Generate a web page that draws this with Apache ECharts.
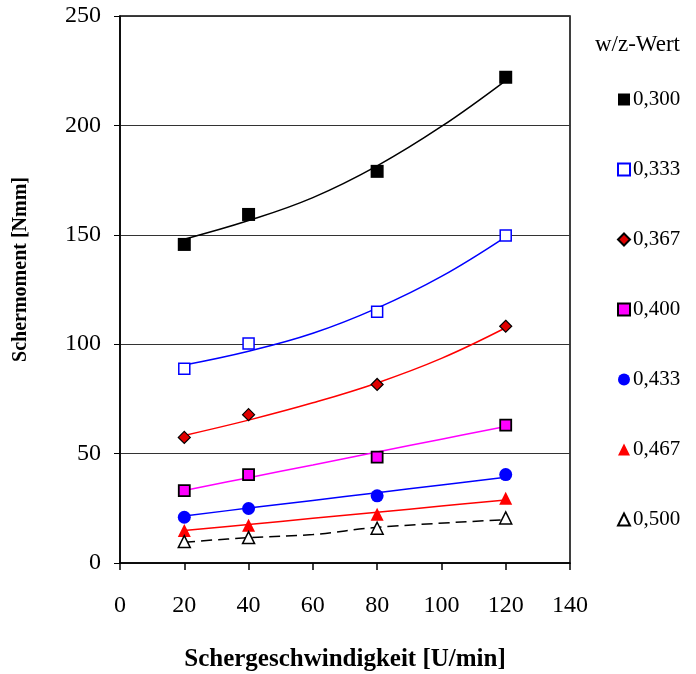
<!DOCTYPE html>
<html><head><meta charset="utf-8">
<script src="https://cdn.jsdelivr.net/npm/echarts@6/dist/echarts.min.js"></script>
<style>html,body{margin:0;padding:0;background:#fff}#c{width:696px;height:674px}</style>
</head><body><div id="c"></div>
<script>
// Measured points
var speeds = [20, 40, 80, 120];
var names = ['0,300','0,333','0,367','0,400','0,433','0,467','0,500'];
var m300 = [145.6, 159.3, 179.0, 222.0];
var m333 = [88.8, 100.3, 114.8, 149.7];
var m367 = [57.4, 67.8, 81.6, 108.2];
var m400 = [33.1, 40.4, 48.4, 63.0];
var m433 = [20.9, 24.9, 30.7, 40.4];
var m467 = [14.8, 17.3, 22.3, 29.6];
var m500 = [9.8, 11.6, 15.9, 20.6];
// Trend lines
var trendX = [20, 40, 60, 80, 100, 120];
var t300 = [148.0, 156.5, 167.0, 181.5, 199.5, 220.5];
var t333 = [90.5, 96.8, 105.0, 116.5, 131.0, 149.1];
var t367 = [58.3, 65.3, 73.2, 82.3, 93.5, 107.5];
var t400 = [33.1, 39.0, 44.8, 50.7, 56.6, 62.4];
var t433 = [21.5, 25.1, 28.6, 32.1, 35.7, 39.2];
var t467 = [14.8, 17.6, 20.4, 23.2, 26.0, 28.8];
var t500X = [20, 40, 60, 80, 120];
var t500 = [9.5, 11.6, 13.0, 16.3, 19.8];

var xTicks = [0, 20, 40, 60, 80, 100, 120, 140];
var yTicks = [0, 50, 100, 150, 200, 250];

function pairs(xs, ys){ return xs.map(function(x,i){return [x, ys[i]];}); }

var styles = [
  {sym:'rect', size:13, fill:'#000', border:'#000', bw:0, line:'#000', type:'solid'},
  {sym:'rect', size:11, fill:'#fff', border:'#0000ff', bw:1.5, line:'#0000ff', type:'solid'},
  {sym:'diamond', size:12, fill:'#e00000', border:'#000', bw:1.2, line:'#ff0000', type:'solid'},
  {sym:'rect', size:11, fill:'#ff00ff', border:'#000', bw:1.8, line:'#ff00ff', type:'solid'},
  {sym:'circle', size:13, fill:'#0000ff', border:'#0000ff', bw:0, line:'#0000ff', type:'solid'},
  {sym:'triangle', size:13, fill:'#ff0000', border:'#ff0000', bw:0, line:'#ff0000', type:'solid'},
  {sym:'triangle', size:12, fill:'#fff', border:'#000', bw:1.5, line:'#000', type:[11,6]}
];
var marks = [m300,m333,m367,m400,m433,m467,m500];
var trends = [pairs(trendX,t300),pairs(trendX,t333),pairs(trendX,t367),pairs(trendX,t400),pairs(trendX,t433),pairs(trendX,t467),pairs(t500X,t500)];

var series = [];
for (var i=0;i<names.length;i++){
  var s = styles[i];
  series.push({
    type:'line', name:names[i]+'_t', data:trends[i], smooth:0.4, showSymbol:false, symbol:'none',
    lineStyle:{color:s.line, width:1.5, type:s.type}, silent:true, z:2
  });
}
for (var i=0;i<names.length;i++){
  var s = styles[i];
  series.push({
    type:'scatter', name:names[i], data:pairs(speeds, marks[i]), symbol:s.sym, symbolSize:s.size,
    itemStyle:{color:s.fill, borderColor:s.border, borderWidth:s.bw, opacity:1}, z:3
  });
}

var chart = echarts.init(document.getElementById('c'), null, {renderer:'canvas'});
chart.setOption({
  animation:false,
  backgroundColor:'#fff',
  textStyle:{fontFamily:'Liberation Serif'},
  grid:{left:120, right:126, top:16, bottom:111, containLabel:false, outerBoundsMode:'none',
        show:true, borderColor:'#000', borderWidth:1.5, backgroundColor:'transparent'},
  title:{text:'w/z-Wert', left:590, top:28, textStyle:{fontFamily:'Liberation Serif', fontSize:23, fontWeight:'normal', color:'#000'}},
  legend:{
    orient:'vertical', left:612, top:84, itemWidth:12, itemHeight:12, itemGap:49,
    data:names, textStyle:{fontFamily:'Liberation Serif', fontSize:21, color:'#000', padding:[0,0,0,-2]},
    selectedMode:false
  },
  graphic:[{
    type:'text', left:11, top:177, rotation:Math.PI/2,
    style:{text:'Schermoment [Nmm]', font:'bold 20px "Liberation Serif"', fill:'#000'}
  }],
  xAxis:{
    type:'value', min:0, max:140, interval:20,
    name:'Schergeschwindigkeit [U/min]', nameLocation:'middle', nameGap:84,
    nameTextStyle:{fontFamily:'Liberation Serif', fontSize:25, fontWeight:'bold', color:'#000'},
    axisLine:{show:true, lineStyle:{color:'#000', width:1.5}},
    axisTick:{show:true, inside:false, length:7, lineStyle:{color:'#000', width:1.5}},
    axisLabel:{fontFamily:'Liberation Serif', fontSize:24, color:'#000', margin:31},
    splitLine:{show:false}
  },
  yAxis:{
    type:'value', min:0, max:250, interval:50,
    axisLine:{show:true, lineStyle:{color:'#000', width:1.5}},
    axisTick:{show:true, inside:false, length:6, lineStyle:{color:'#000', width:1}},
    axisLabel:{fontFamily:'Liberation Serif', fontSize:24, color:'#000', margin:19},
    splitLine:{show:true, lineStyle:{color:'#333', width:1}}
  },
  series:series
});
</script></body></html>
